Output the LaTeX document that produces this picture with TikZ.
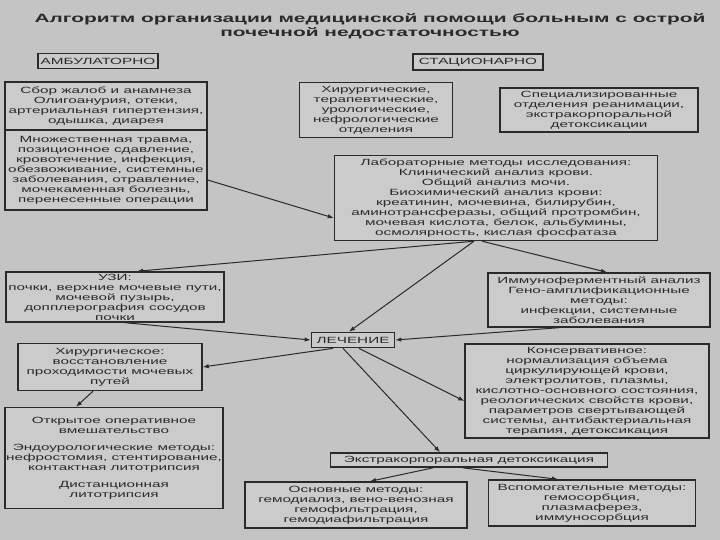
\documentclass[tikz,border=0pt]{standalone}
\usepackage{fontspec}
\setmainfont{Liberation Sans}
\newfontfamily\boxfont[FakeStretch=1.7]{Liberation Sans}
\newfontfamily\headfont[FakeStretch=1.74]{Liberation Sans}
\usetikzlibrary{arrows.meta}

\definecolor{bggray}{HTML}{C4C4C4}
\definecolor{boxgray}{HTML}{CBCBCB}
\definecolor{inkgray}{HTML}{2A2A2A}

\tikzset{
  box/.style={draw=inkgray, line width=1.4pt, fill=boxgray, text=inkgray, align=center, inner sep=1pt,
    font=\boxfont\fontsize{9}{10}\selectfont},
  tagbox/.style={box, line width=1.7pt},
  arr/.style={-{Latex[length=6pt,width=4.5pt]}, line width=1pt, draw=inkgray},
}

\begin{document}
\begin{tikzpicture}[x=1pt, y=-1pt]
    \fill[bggray] (0,0) rectangle (720,540);
    \useasboundingbox (0,0) rectangle (720,540);

    \node (title) [text=inkgray, align=center, font=\headfont\bfseries\fontsize{12}{14.5}\selectfont] at (370,26) {Алгоритм организации медицинской помощи больным с острой\\ почечной недостаточностью};

    \node (ambul) [tagbox, minimum width=120pt, minimum height=15pt] at (98,61) {АМБУЛАТОРНО};
    \node (stac) [tagbox, minimum width=130pt, minimum height=16pt] at (478,62) {СТАЦИОНАРНО};

    \node (complaints) [box, minimum width=202pt, minimum height=48pt] at (106,106) {Сбор жалоб и анамнеза\\ Олигоанурия, отеки,\\ артериальная гипертензия,\\ одышка, диарея};
    \node (risk) [box, minimum width=202pt, minimum height=80pt] at (106,170) {Множественная травма,\\ позиционное сдавление,\\ кровотечение, инфекция,\\ обезвоживание, системные\\ заболевания, отравление,\\ мочекаменная болезнь,\\ перенесенные операции};

    \node (wards) [box, minimum width=153pt, minimum height=55pt] at (376,110) {Хирургические,\\ терапевтические,\\ урологические,\\ нефрологические\\ отделения};
    \node (icu) [box, minimum width=198pt, minimum height=44pt] at (599,110) {Специализированные\\ отделения реанимации,\\ экстракорпоральной\\ детоксикации};

    \node (lab) [box, minimum width=323pt, minimum height=85pt] at (496,198) {Лабораторные методы исследования:\\ Клинический анализ крови.\\ Общий анализ мочи.\\ Биохимический анализ крови:\\ креатинин, мочевина, билирубин,\\ аминотрансферазы, общий протромбин,\\ мочевая кислота, белок, альбумины,\\ осмолярность, кислая фосфатаза};

    \node (uzi) [box, minimum width=218pt, minimum height=50pt] at (115,297) {УЗИ:\\ почки, верхние мочевые пути,\\ мочевой пузырь,\\ допплерография сосудов\\ почки};
    \node (immuno) [box, minimum width=222pt, minimum height=54pt] at (599,300) {Иммуноферментный анализ\\ Гено-амплификационные\\ методы:\\ инфекции, системные\\ заболевания};

    \node (therapy) [tagbox, minimum width=83pt, minimum height=15pt] at (353,340) {ЛЕЧЕНИЕ};

    \node (surg) [box, minimum width=184pt, minimum height=47pt] at (110,367) {Хирургическое:\\ восстановление\\ проходимости мочевых\\ путей};
    \node (surgmethods) [box, minimum width=218pt, minimum height=101pt] at (114,458) {Открытое оперативное\\ вмешательство\\[7pt] Эндоурологические методы:\\ нефростомия, стентирование,\\ контактная литотрипсия\\[7pt] Дистанционная\\ литотрипсия};

    \node (conserv) [box, minimum width=244pt, minimum height=94pt] at (587,391) {Консервативное:\\ нормализация объема\\ циркулирующей крови,\\ электролитов, плазмы,\\ кислотно-основного состояния,\\ реологических свойств крови,\\ параметров свертывающей\\ системы, антибактериальная\\ терапия, детоксикация};

    \node (extra) [tagbox, minimum width=277pt, minimum height=14pt] at (469,460) {Экстракорпоральная детоксикация};

    \node (basic) [box, minimum width=222pt, minimum height=46pt] at (356,505) {Основные методы:\\ гемодиализ, вено-венозная\\ гемофильтрация,\\ гемодиафильтрация};
    \node (aux) [box, minimum width=207pt, minimum height=46pt] at (592,503) {Вспомогательные методы:\\ гемосорбция,\\ плазмаферез,\\ иммуносорбция};

    \draw [arr] ([yshift=-10pt]risk.east) -- ([yshift=-20pt]lab.west);

    \draw [arr] ([xshift=-22pt]lab.south) -- ([xshift=22pt]uzi.north);
    \draw [arr] ([xshift=-22pt]lab.south) -- ([xshift=-4pt]therapy.north);
    \draw [arr] ([xshift=-14pt]lab.south) -- ([xshift=8pt]immuno.north);

    \draw [arr] ([xshift=10pt]uzi.south) -- (therapy.west);
    \draw [arr] ([xshift=-40pt]immuno.south) -- (therapy.east);

    \draw [arr] ([xshift=-20pt]therapy.south) -- (surg.east);
    \draw [arr] ([xshift=6pt]therapy.south) -- ([yshift=-10pt]conserv.west);
    \draw [arr] ([xshift=-10pt]therapy.south) -- ([xshift=-29pt]extra.north);

    \draw [arr] ([xshift=-17pt]surg.south) -- ([xshift=-38pt]surgmethods.north);

    \draw [arr] ([xshift=-36pt]extra.south) -- ([xshift=14pt]basic.north);
    \draw [arr] ([xshift=-6pt]extra.south) -- ([xshift=-34pt]aux.north);
\end{tikzpicture}
\end{document}
